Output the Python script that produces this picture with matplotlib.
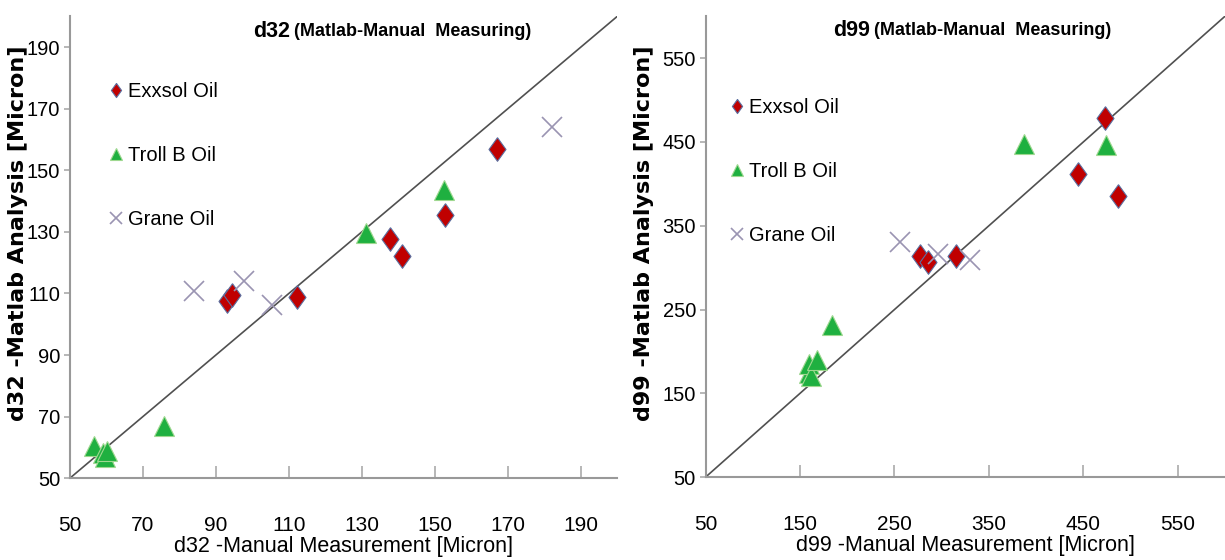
import numpy as np
import matplotlib.pyplot as plt

# d32 data (manual, matlab)
d32_exx_x = [93.1, 94.4, 112.3, 137.6, 141.1, 152.7, 167.0]
d32_exx_y = [107.7, 109.6, 108.7, 127.8, 122.0, 135.4, 156.9]
d32_troll_x = [56.6, 59.0, 59.6, 60.1, 75.7, 131.0, 152.4]
d32_troll_y = [60.5, 58.3, 57.0, 58.9, 67.0, 129.5, 143.5]
d32_grane_x = [84.0, 97.6, 105.5, 182.0]
d32_grane_y = [110.8, 114.0, 106.2, 164.2]

# d99 data
d99_exx_x = [277, 286, 315, 444, 473, 487]
d99_exx_y = [314, 307, 314, 412, 478, 385]
d99_troll_x = [159, 160, 162, 168, 184, 387, 474]
d99_troll_y = [174, 185, 171, 190, 232, 447, 446]
d99_grane_x = [256, 296, 330]
d99_grane_y = [330, 316, 309]

plt.rcParams['font.family'] = ['Liberation Sans', 'DejaVu Sans']

diamond = [(0, 1), (0.72, 0), (0, -1), (-0.72, 0), (0, 1)]


def draw(ax, ex_x, ex_y, tr_x, tr_y, gr_x, gr_y, lim, ticks, name, xlab, ylab, tx, legpos, ylx):
    ax.plot(lim, lim, color='#505050', lw=1.2, zorder=1)
    ax.plot(ex_x, ex_y, marker=diamond, ms=17, color='#c00000', mec='#5b6fa0', mew=0.8, ls='none',
            label='Exxsol Oil', zorder=3)
    ax.plot(tr_x, tr_y, '^', ms=15, color='#1fb040', mec='#9fd890', mew=0.8, ls='none',
            label='Troll B Oil', zorder=3)
    ax.plot(gr_x, gr_y, 'x', ms=15, color='#9a94b2', mew=1.2, ls='none', label='Grane Oil', zorder=3)
    ax.set_xlim(lim)
    ax.set_ylim(lim)
    ax.set_xticks(ticks)
    ax.set_yticks(ticks)
    for s in ['top', 'right']:
        ax.spines[s].set_visible(False)
    for s in ['left', 'bottom']:
        ax.spines[s].set_color('#999999')
        ax.spines[s].set_linewidth(1.5)
    ax.tick_params(axis='x', direction='in', length=9, width=1.2, color='#aaaaaa', pad=27, labelsize=15)
    ax.tick_params(axis='y', direction='out', length=4, width=1.2, color='#aaaaaa', pad=3, labelsize=14.5)
    ax.set_xlabel(xlab, fontsize=15.5, labelpad=1)
    ax.set_ylabel(ylab, fontsize=16, fontweight='bold', family='DejaVu Sans')
    ax.yaxis.set_label_coords(ylx, 0.53)
    t1 = ax.text(tx, 0.968, name, transform=ax.transAxes, fontsize=15.5, fontweight='bold', va='center')
    ax.annotate('(Matlab-Manual  Measuring)', xy=(1, 0.5), xycoords=t1, xytext=(3, 0),
                textcoords='offset points', fontsize=13, fontweight='bold', va='center')
    ax.legend(loc='upper left', bbox_to_anchor=legpos, frameon=False, fontsize=14.5, labelspacing=2.25,
              handletextpad=0.1, markerscale=0.6, handlelength=1.0, borderpad=0)


fig = plt.figure(figsize=(12.25, 5.6), dpi=100)
ax1 = fig.add_axes([0.057, 0.146, 0.447, 0.825])
ax2 = fig.add_axes([0.576, 0.148, 0.424, 0.823])

draw(ax1, d32_exx_x, d32_exx_y, d32_troll_x, d32_troll_y, d32_grane_x, d32_grane_y,
     [50, 200], list(range(50, 200, 20)), 'd32',
     'd32 -Manual Measurement [Micron]', 'd32 -Matlab Analysis [Micron]', 0.335, (0.047, 0.88), -0.076)
draw(ax2, d99_exx_x, d99_exx_y, d99_troll_x, d99_troll_y, d99_grane_x, d99_grane_y,
     [50, 600], list(range(50, 600, 100)), 'd99',
     'd99 -Manual Measurement [Micron]', 'd99 -Matlab Analysis [Micron]', 0.245, (0.021, 0.845), -0.10)

fig.savefig('out.png', dpi=100)
